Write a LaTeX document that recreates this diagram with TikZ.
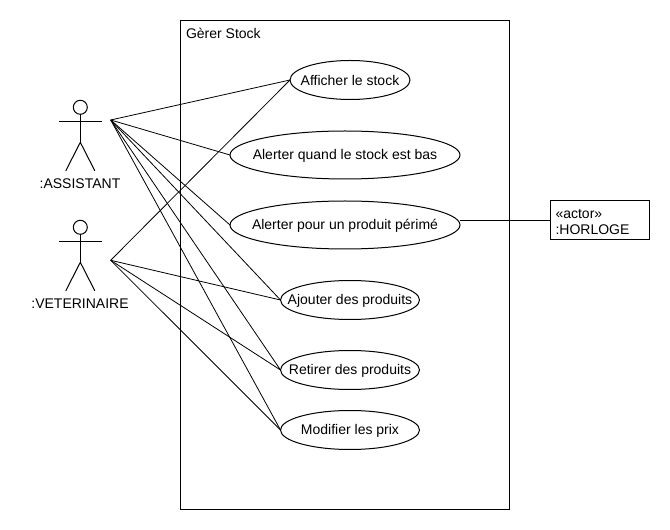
\documentclass[tikz,border=0pt]{standalone}
\usepackage{fontspec}
\setmainfont{Liberation Sans}
\usepackage{tikz}
\usetikzlibrary{shapes.geometric}

\tikzset{
  usecase/.style n args={3}{ellipse,draw,inner sep=0pt,outer sep=0pt,
    minimum width=#1*0.75pt,minimum height=#2*0.75pt,label={[yshift=-0.75pt]center:#3}},
  actorname/.style={inner sep=0pt,outer sep=0pt},
  actorfig/.pic={
    \draw (0,0) circle (7);
    \draw (0,7) -- (0,35);
    \draw (-21.5,14) -- (21.5,14);
    \draw (-14.5,63.5) -- (0,35) -- (14.5,63.5);
  }
}

\begin{document}
\begin{tikzpicture}[x=0.75pt,y=-0.75pt,line width=0.75pt,font=\fontsize{10.5}{11.5}\selectfont]
\useasboundingbox (0,0) rectangle (670,530);

% System boundary
\node[draw,minimum width=328.5*0.75pt,minimum height=489*0.75pt,inner sep=0pt,outer sep=0pt] (stock) at (344.75,264.8) {};
\node[inner sep=0pt,anchor=west] (stocktitle) at (185.5,33.3) {Gèrer Stock};

% Actors
\pic at (80.3,107.3) {actorfig};
\pic at (80.3,227.3) {actorfig};
\node[actorname] (assistantname) at (80,183.5) {:ASSISTANT};
\node[actorname] (veterinairename) at (80,303.5) {:VETERINAIRE};
\coordinate (assistant) at (110.7,120);
\coordinate (veterinaire) at (110.7,260.3);

% Use cases
\node[usecase={120}{39}{Afficher le stock}] (afficher) at (350,80) {};
\node[usecase={230}{48}{Alerter quand le stock est bas}] (bas) at (345,155) {};
\node[usecase={230}{48}{Alerter pour un produit périmé}] (perime) at (345,225) {};
\node[usecase={139}{39}{Ajouter des produits}] (ajouter) at (350,300) {};
\node[usecase={139}{39}{Retirer des produits}] (retirer) at (350,370) {};
\node[usecase={139}{39}{Modifier les prix}] (modifier) at (350,430) {};

\node[draw,inner xsep=5*0.75pt,inner ysep=0pt,outer sep=0pt,align=left,text width=89*0.75pt,minimum height=39*0.75pt] (horloge) at (600,220) {\rule{0pt}{10pt}«actor»\\:HORLOGE};

% Associations
\foreach \uc in {afficher,bas,perime,ajouter,retirer,modifier}
  \draw[line width=0.6pt] (assistant) -- (\uc.west);
\foreach \uc in {afficher,ajouter,retirer,modifier}
  \draw[line width=0.6pt] (veterinaire) -- (\uc.west);
\draw[line width=0.6pt] (perime.east |- horloge.west) -- (horloge.west);
\end{tikzpicture}
\end{document}
